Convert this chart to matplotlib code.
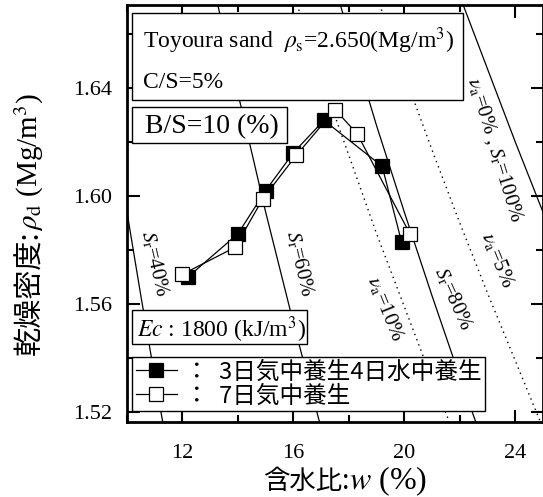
import matplotlib
matplotlib.use("Agg")
import matplotlib.pyplot as plt
from matplotlib.patches import Rectangle
from matplotlib.lines import Line2D

plt.rcParams["font.family"] = ["Liberation Serif", "Noto Sans CJK JP"]
plt.rcParams["mathtext.fontset"] = "stix"

# compaction points
w_mixed = [12.2, 14.0, 15.0, 16.0, 17.1, 19.2, 19.9]
rho_mixed = [1.570, 1.586, 1.602, 1.616, 1.628, 1.611, 1.583]
w_air = [12.0, 13.9, 14.9, 16.1, 17.5, 18.3, 20.2]
rho_air = [1.571, 1.581, 1.599, 1.615, 1.632, 1.623, 1.586]

label_mixed = "：  3日気中養生4日水中養生"
label_air = "：  7日気中養生"

# saturation / air-void curves
sr40_w = [10.0, 10.5, 11.0, 11.5]
sr40_rho = [1.594, 1.563, 1.533, 1.504]
sr60_w = [13, 14, 15, 16, 17]
sr60_rho = [1.683, 1.638, 1.594, 1.553, 1.514]
sr80_w = [17, 18, 19, 20, 21, 22, 23]
sr80_rho = [1.695, 1.660, 1.626, 1.594, 1.563, 1.533, 1.504]
sr100_w = [21, 22, 23, 24, 25, 26]
sr100_rho = [1.703, 1.674, 1.647, 1.620, 1.594, 1.569]
va5_w = [18, 19, 20, 21, 22, 23, 24, 25]
va5_rho = [1.705, 1.674, 1.645, 1.617, 1.590, 1.564, 1.539, 1.514]
va10_w = [16, 17, 18, 19, 20, 21, 22]
va10_rho = [1.675, 1.644, 1.615, 1.586, 1.559, 1.532, 1.507]

x_major = [12, 16, 20, 24]
x_minor = [10, 14, 18, 22]
y_major = [1.52, 1.56, 1.60, 1.64]
y_minor = [1.54, 1.58, 1.62, 1.66]
y_ticklabels = ["1.52", "1.56", "1.60", "1.64"]

fig = plt.figure(figsize=(5.43, 4.97), dpi=100)
ax = fig.add_axes([127 / 543, 1 - 422 / 497, 416 / 543, 417 / 497])

solid = dict(color="black", lw=0.9, zorder=1)
dotted = dict(color="black", lw=1.0, ls=(0, (1, 3)), zorder=1)
ax.plot(sr40_w, sr40_rho, **solid)
ax.plot(sr60_w, sr60_rho, **solid)
ax.plot(sr80_w, sr80_rho, **solid)
ax.plot(sr100_w, sr100_rho, **solid)
ax.plot(va5_w, va5_rho, **dotted)
ax.plot(va10_w, va10_rho, **dotted)

curve_txt = [
    (r"$S_{\rm r}$=40%", 10.99, 1.5748, -77),
    (r"$S_{\rm r}$=60%", 16.23, 1.5748, -77),
    (r"$\nu_{\rm a}$=10%", 19.30, 1.5581, -68),
    (r"$S_{\rm r}$=80%", 21.76, 1.5619, -66),
    (r"$\nu_{\rm a}$=5%", 23.35, 1.5763, -68),
    (r"$\nu_{\rm a}$=0% , $S_{\rm r}$=100%", 23.26, 1.617, -73),
]
for s, x, y, ang in curve_txt:
    ax.text(x, y, s, rotation=ang, ha="center", va="center",
            rotation_mode="anchor", fontsize=15, zorder=2)

mk = dict(color="black", lw=0.9, marker="s", ms=10, mec="black", mew=0.9)
ax.plot(w_mixed, rho_mixed, mfc="black", zorder=3, **mk)
ax.plot(w_air, rho_air, mfc="white", zorder=3, **mk)

ax.set_xlim(10, 25)
ax.set_ylim(1.5163, 1.6707)
ax.set_xticks(x_major)
ax.set_xticks(x_minor, minor=True)
ax.set_yticks(y_major)
ax.set_yticklabels(y_ticklabels)
ax.set_yticks(y_minor, minor=True)
ax.tick_params(which="both", direction="in", top=True, right=True,
               width=1.5, labelsize=16)
ax.tick_params(axis="x", pad=16)
ax.tick_params(axis="y", pad=11)
ax.tick_params(which="major", length=9)
ax.tick_params(which="minor", length=5)
for sp in ax.spines.values():
    sp.set_linewidth(2)

# text boxes
def box(x0, y0, x1, y1):
    ax.add_patch(Rectangle((x0, y0), x1 - x0, y1 - y0, transform=ax.transAxes,
                           fc="white", ec="black", lw=1, zorder=4))

box(0.012, 0.772, 0.808, 0.981)
ax.text(0.0385, 0.896, r"Toyoura sand  $\rho_{\rm s}$=2.650(Mg/m$^3$)",
        transform=ax.transAxes, fontsize=17, va="baseline", zorder=5)
ax.text(0.0385, 0.801, "C/S=5%", transform=ax.transAxes, fontsize=17,
        va="baseline", zorder=5)
box(0.012, 0.669, 0.385, 0.755)
ax.text(0.043, 0.693, "B/S=10 (%)", transform=ax.transAxes, fontsize=20,
        va="baseline", zorder=5)
box(0.012, 0.187, 0.433, 0.269)
ax.text(0.024, 0.203, r"$Ec$ : 1800 (kJ/m$^3$)", transform=ax.transAxes,
        fontsize=17, va="baseline", zorder=5)

handles = [Line2D([], [], mfc="black", **mk), Line2D([], [], mfc="white", **mk)]
leg = ax.legend(handles, [label_mixed, label_air], loc="lower left",
                bbox_to_anchor=(0.012, 0.026), borderaxespad=0,
                prop={"family": "Noto Sans CJK JP", "size": 17},
                fancybox=False, framealpha=1, edgecolor="black",
                handlelength=1.75, handletextpad=0.35, labelspacing=0.05,
                borderpad=0.15)
leg.get_frame().set_linewidth(1)
leg.set_zorder(6)


def text_run(xc, yc, pieces, vertical=False):
    """Place several text pieces end to end, centred on (xc, yc) in figure px."""
    r = fig.canvas.get_renderer()
    items = []
    for s, kw in pieces:
        t = fig.text(0, 0, s, ha="left", va="baseline", rotation=90 if vertical else 0,
                     rotation_mode="anchor", **kw)
        bb = t.get_window_extent(r)
        items.append((t, bb.height if vertical else bb.width))
    pos = -sum(l for _, l in items) / 2
    W, H = fig.bbox.width, fig.bbox.height
    for t, l in items:
        if vertical:
            t.set_position((xc / W, (yc + pos) / H))
        else:
            t.set_position(((xc + pos) / W, yc / H))
        pos += l


text_run(345, 497 - 489, [("含水比:", {"family": "Noto Sans CJK JP", "size": 19}),
                          (r"$w$ (%)", {"size": 23})])
text_run(38, 497 - 224, [("乾燥密度:", {"family": "Noto Sans CJK JP", "size": 21}),
                         (r"$\rho_{\rm d}$ (Mg/m$^3$)", {"size": 21})], vertical=True)

fig.savefig("out.png", dpi=100)
